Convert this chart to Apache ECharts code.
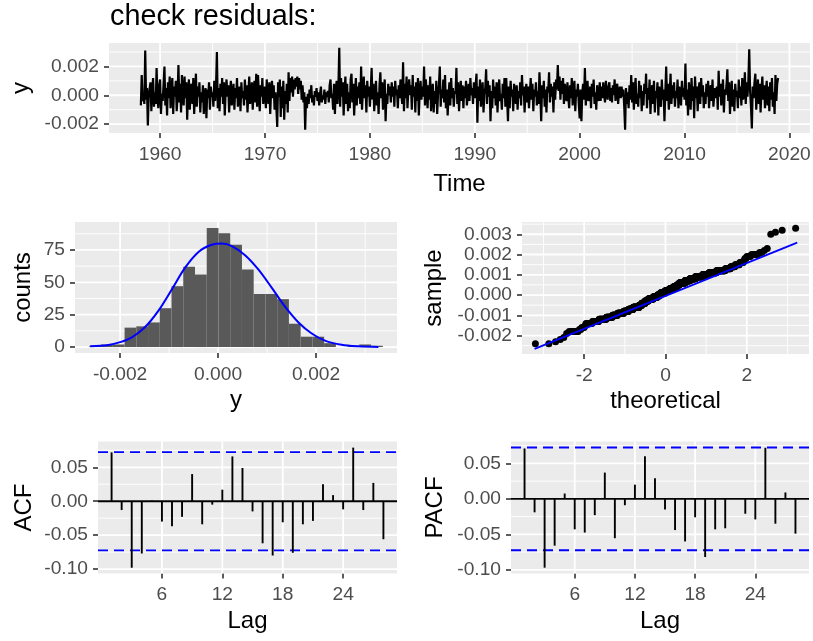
<!DOCTYPE html>
<html><head><meta charset="utf-8">
<script src="https://cdn.jsdelivr.net/npm/echarts@6/dist/echarts.min.js"></script>
<style>html,body{margin:0;padding:0;background:#fff}#c{width:813px;height:641px}</style>
</head><body><div id="c"></div>
<script>
// ---------- time series of residuals (monthly, Mar 1958 - Dec 2018) ----------
const tsStartYear = 1958, tsStartMonth = 3;
const residuals = [
-0.0007, 0.0014, -0.0004, 0.0001, -0.0006, 0.0031, -0.0003, 0.0005, -0.0021, 0.0000,
-0.0001, 0.0009, -0.0011, 0.0004, 0.0012, -0.0008, 0.0002, -0.0006, 0.0019, -0.0002, -0.0009, 0.0007,
0.0011, -0.0013, 0.0001, -0.0004, 0.0008, 0.0020, -0.0007, 0.0005, -0.0014, 0.0009, -0.0002, 0.0013,
-0.0009, 0.0004, 0.0012, -0.0013, 0.0006, -0.0001, 0.0010, -0.0011, 0.0000, 0.0021, -0.0005, 0.0008,
-0.0012, 0.0014, 0.0001, -0.0007, 0.0013, -0.0002, 0.0009, -0.0017, 0.0003, 0.0011, -0.0010, 0.0005,
0.0008, -0.0006, 0.0012, -0.0013, 0.0001, 0.0015, -0.0008, 0.0006, -0.0001, 0.0009, -0.0012, 0.0002,
-0.0005, 0.0007, -0.0013, 0.0000, 0.0005, -0.0016, 0.0004, -0.0002, 0.0009, -0.0010, 0.0006, -0.0001,
0.0002, -0.0008, 0.0010, -0.0004, 0.0006, 0.0030, -0.0009, 0.0005, -0.0011, 0.0008, -0.0001, 0.0012,
-0.0006, 0.0009, -0.0014, 0.0003, 0.0011, -0.0001, 0.0007, -0.0012, 0.0002, 0.0010, -0.0007, 0.0000,
0.0008, -0.0010, 0.0005, -0.0002, 0.0012, -0.0008, 0.0001, 0.0006, -0.0011, 0.0009, -0.0002, 0.0003,
-0.0007, 0.0011, -0.0003, 0.0007, -0.0012, 0.0001, 0.0013, -0.0006, 0.0000, 0.0009, -0.0010, 0.0005,
0.0010, -0.0005, 0.0015, -0.0008, 0.0014, 0.0002, -0.0011, 0.0007, -0.0001, 0.0012, -0.0006, 0.0001,
0.0006, -0.0009, 0.0011, 0.0000, -0.0006, 0.0009, -0.0013, 0.0003, 0.0010, -0.0002, 0.0007, -0.0010,
0.0002, -0.0008, -0.0022, 0.0009, -0.0001, 0.0011, -0.0015, 0.0006, -0.0009, 0.0010, -0.0017, 0.0003,
-0.0006, 0.0008, -0.0012, 0.0016, -0.0004, 0.0012, 0.0002, 0.0013, -0.0001, 0.0011, 0.0004, 0.0012,
0.0006, 0.0013, 0.0001, 0.0012, 0.0004, 0.0010, -0.0003, 0.0007, -0.0005, 0.0002, -0.0024, -0.0001,
-0.0009, 0.0001, -0.0006, 0.0004, -0.0002, 0.0007, -0.0005, 0.0000, -0.0007, 0.0003, -0.0001, 0.0005,
-0.0004, 0.0002, -0.0007, 0.0001, 0.0006, -0.0005, 0.0000, -0.0003, 0.0004, -0.0006, 0.0002, -0.0001,
0.0003, -0.0005, 0.0007, 0.0011, -0.0002, 0.0001, -0.0010, 0.0008, -0.0013, 0.0004, 0.0010, -0.0006,
0.0006, 0.0033, -0.0008, 0.0012, -0.0001, 0.0009, -0.0014, 0.0003, 0.0013, -0.0006, 0.0008, -0.0011,
0.0002, -0.0009, 0.0011, 0.0015, -0.0005, 0.0008, -0.0014, 0.0001, 0.0012, -0.0007, 0.0006, -0.0002,
0.0009, -0.0006, 0.0020, -0.0010, 0.0003, 0.0013, -0.0002, 0.0007, -0.0012, 0.0010, -0.0001, 0.0006,
-0.0008, 0.0004, 0.0019, -0.0003, 0.0008, -0.0011, 0.0001, 0.0010, -0.0007, 0.0002, -0.0013, 0.0007,
0.0016, -0.0002, 0.0009, -0.0010, 0.0003, 0.0011, -0.0018, 0.0001, -0.0006, 0.0008, 0.0000, 0.0006,
-0.0005, 0.0009, -0.0001, 0.0006, -0.0008, 0.0010, 0.0000, 0.0004, -0.0009, 0.0007, -0.0002, 0.0011,
0.0001, -0.0006, 0.0023, -0.0011, 0.0008, -0.0002, 0.0013, -0.0009, 0.0003, 0.0011, 0.0000, 0.0007,
-0.0010, 0.0014, -0.0001, 0.0006, -0.0012, 0.0009, -0.0004, 0.0012, -0.0014, 0.0002, 0.0010, -0.0003,
0.0006, -0.0001, 0.0020, -0.0007, 0.0011, 0.0002, -0.0009, 0.0007, -0.0003, 0.0013, -0.0011, 0.0001,
0.0008, -0.0012, 0.0003, -0.0006, 0.0010, -0.0013, 0.0001, 0.0007, 0.0020, -0.0008, 0.0004, -0.0002,
0.0011, -0.0005, 0.0014, -0.0009, 0.0004, -0.0014, 0.0000, 0.0009, -0.0007, 0.0012, -0.0002, 0.0005,
-0.0008, 0.0003, 0.0001, 0.0019, -0.0006, 0.0009, -0.0011, 0.0002, 0.0010, -0.0004, 0.0007, -0.0009,
0.0006, -0.0002, 0.0010, -0.0007, 0.0001, 0.0008, -0.0004, 0.0012, 0.0000, 0.0005, -0.0006, 0.0009,
-0.0002, 0.0007, 0.0015, -0.0019, 0.0006, -0.0004, 0.0011, -0.0008, 0.0002, 0.0009, -0.0012, 0.0001,
0.0005, 0.0018, -0.0006, 0.0010, -0.0001, 0.0007, -0.0018, 0.0003, -0.0009, 0.0011, -0.0002, 0.0006,
-0.0007, 0.0009, -0.0012, 0.0003, 0.0011, -0.0004, 0.0001, -0.0010, 0.0008, -0.0002, 0.0012, -0.0008,
0.0012, -0.0003, -0.0018, 0.0006, -0.0009, 0.0010, -0.0001, 0.0004, -0.0011, 0.0008, 0.0002, -0.0006,
0.0007, -0.0010, 0.0003, -0.0002, 0.0009, -0.0007, 0.0014, 0.0000, 0.0006, -0.0012, 0.0002, 0.0008,
-0.0005, 0.0006, -0.0009, 0.0001, 0.0012, -0.0003, 0.0008, -0.0011, 0.0004, -0.0001, 0.0009, -0.0007,
0.0003, -0.0006, 0.0016, 0.0001, -0.0018, 0.0007, -0.0002, 0.0010, -0.0008, 0.0004, -0.0012, 0.0006,
0.0002, 0.0016, -0.0005, 0.0008, -0.0001, 0.0006, -0.0012, 0.0009, -0.0003, 0.0011, 0.0004, 0.0021,
0.0003, 0.0013, -0.0003, 0.0010, 0.0001, 0.0012, -0.0006, 0.0008, 0.0000, -0.0004, 0.0009, -0.0001,
-0.0009, 0.0007, -0.0002, 0.0012, -0.0007, 0.0003, 0.0010, -0.0011, 0.0004, -0.0001, 0.0008, -0.0006,
-0.0016, 0.0004, -0.0018, 0.0002, 0.0008, -0.0003, 0.0019, -0.0007, 0.0003, 0.0010, -0.0004, 0.0001,
0.0006, -0.0009, 0.0008, -0.0001, 0.0011, -0.0006, 0.0002, -0.0010, 0.0007, 0.0000, -0.0004, 0.0009,
-0.0004, 0.0006, -0.0002, 0.0009, 0.0001, -0.0005, 0.0010, 0.0002, -0.0003, 0.0006, 0.0009, -0.0004,
0.0005, -0.0005, 0.0007, 0.0000, 0.0011, -0.0004, 0.0004, 0.0008, -0.0006, 0.0002, 0.0006, -0.0002,
0.0006, -0.0001, 0.0004, -0.0008, -0.0024, 0.0005, -0.0006, 0.0002, -0.0009, 0.0007, -0.0003, 0.0014,
-0.0005, 0.0009, -0.0010, 0.0004, 0.0012, -0.0006, 0.0001, -0.0008, 0.0010, -0.0002, 0.0007, -0.0011,
0.0003, -0.0007, 0.0008, 0.0001, 0.0015, -0.0009, 0.0005, -0.0003, 0.0011, -0.0013, 0.0002, 0.0007,
-0.0006, 0.0010, -0.0012, 0.0003, -0.0002, 0.0009, -0.0014, 0.0006, 0.0000, -0.0008, 0.0011, -0.0003,
0.0004, -0.0018, 0.0002, 0.0020, -0.0004, 0.0008, -0.0010, 0.0001, 0.0015, -0.0006, 0.0007, -0.0002,
0.0009, -0.0008, 0.0003, -0.0002, 0.0011, -0.0009, 0.0006, 0.0000, -0.0007, 0.0010, -0.0001, 0.0005,
-0.0003, 0.0022, -0.0007, 0.0004, -0.0014, 0.0009, 0.0001, -0.0010, 0.0012, -0.0004, 0.0006, -0.0016,
0.0013, -0.0002, 0.0006, -0.0011, 0.0003, 0.0009, -0.0006, 0.0012, -0.0001, 0.0007, -0.0009, 0.0002,
-0.0006, 0.0008, -0.0001, 0.0010, -0.0009, 0.0002, 0.0007, -0.0004, 0.0011, -0.0008, 0.0001, 0.0005,
-0.0002, 0.0006, -0.0010, 0.0017, -0.0001, 0.0008, -0.0007, 0.0003, 0.0011, -0.0012, 0.0004, 0.0000,
0.0007, 0.0018, -0.0004, 0.0009, -0.0013, 0.0002, 0.0010, -0.0008, 0.0004, -0.0011, 0.0008, -0.0001,
0.0003, -0.0009, 0.0011, -0.0002, 0.0006, -0.0007, 0.0012, -0.0003, 0.0001, 0.0016, -0.0006, 0.0009,
-0.0001, 0.0010, 0.0032, 0.0003, -0.0008, -0.0023, 0.0006, -0.0002, 0.0009, 0.0015, -0.0010, 0.0003,
0.0011, -0.0006, 0.0008, -0.0012, 0.0004, 0.0013, -0.0003, 0.0007, -0.0009, 0.0002, 0.0010, -0.0007,
0.0006, -0.0011, 0.0009, -0.0003, 0.0012, -0.0008, 0.0002, -0.0013, 0.0014, -0.0004, 0.0008, 0.0012
];
const tsXTicks = [1960, 1970, 1980, 1990, 2000, 2010, 2020];
const tsXMinor = [1965, 1975, 1985, 1995, 2005, 2015];
const tsYTicks = [-0.002, 0, 0.002];
const tsYMinor = [-0.001, 0.001, 0.003];

// ---------- histogram ----------
const histStart = -0.002627, histBinWidth = 0.0002395;
const histCounts = [1, 2, 2, 15, 16, 19, 30, 47, 62, 56, 92, 88, 79, 60, 41, 41, 37, 18, 8, 8, 3, 0, 1, 2, 1];
const normCurveX = [-0.00261, -0.00224, -0.0020, -0.00176, -0.00149, -0.00122, -0.000945, -0.00067, -0.0004, -0.00013, 0.00008, 0.00028, 0.00055, 0.00082, 0.0011, 0.00137, 0.00164, 0.00191, 0.00218, 0.00252, 0.00286, 0.00327];
const normCurveY = [0.6, 1.6, 3.8, 7.5, 15.5, 28, 44.5, 61.5, 73.5, 79, 80, 78, 71, 60, 45.5, 31, 19, 10.5, 5, 1.8, 0.6, 0.1];
const histXTicks = [-0.002, 0, 0.002];
const histXMinor = [-0.001, 0.001, 0.003];
const histYTicks = [0, 25, 50, 75];
const histYMinor = [12.5, 37.5, 62.5, 87.5];

// ---------- QQ plot ----------
const qqLineX = [-3.22, 3.24];
const qqLineY = [-0.00266, 0.00259];
const qqXTicks = [-2, 0, 2];
const qqXMinor = [-3, -1, 1, 3];
const qqYTicks = [-0.002, -0.001, 0, 0.001, 0.002, 0.003];
const qqYMinor = [-0.0025, -0.0015, -0.0005, 0.0005, 0.0015, 0.0025, 0.0035];

// ---------- ACF / PACF ----------
const acfValues = [0.072, -0.013, -0.098, -0.077, 0.001, -0.030, -0.037, -0.023, 0.040, -0.034, -0.005, 0.017, 0.066, 0.049, -0.015, -0.062, -0.080, -0.031, -0.076, -0.034, -0.029, 0.025, 0.009, -0.012, 0.079, -0.013, 0.027, -0.056];
const pacfValues = [0.071, -0.019, -0.097, -0.066, 0.0075, -0.043, -0.0475, -0.023, 0.037, -0.0555, -0.009, 0.020, 0.060, 0.029, -0.015, -0.044, -0.060, -0.026, -0.082, -0.043, -0.0415, 0.0, -0.021, -0.029, 0.072, -0.035, 0.009, -0.049];
const ciBound = 0.0724;
const lagTicks = [6, 12, 18, 24];
const corYTicks = [-0.10, -0.05, 0, 0.05];
const corYMinor = [-0.075, -0.025, 0.025, 0.075];

// ---------- helpers ----------
const FONT = 'Liberation Sans, Arial, sans-serif';
function qnorm(p) {
  const a=[-3.969683028665376e+01,2.209460984245205e+02,-2.759285104469687e+02,1.383577518672690e+02,-3.066479806614716e+01,2.506628277459239e+00];
  const b=[-5.447609879822406e+01,1.615858368580409e+02,-1.556989798598866e+02,6.680131188771972e+01,-1.328068155288572e+01];
  const c=[-7.784894002430293e-03,-3.223964580411365e-01,-2.400758277161838e+00,-2.549732539343734e+00,4.374664141464968e+00,2.938163982698783e+00];
  const d=[7.784695709041462e-03,3.224671290700398e-01,2.445134137142996e+00,3.754408661907416e+00];
  const pl=0.02425;
  let q, r;
  if (p < pl) { q=Math.sqrt(-2*Math.log(p)); return (((((c[0]*q+c[1])*q+c[2])*q+c[3])*q+c[4])*q+c[5])/((((d[0]*q+d[1])*q+d[2])*q+d[3])*q+1); }
  if (p > 1-pl) { q=Math.sqrt(-2*Math.log(1-p)); return -(((((c[0]*q+c[1])*q+c[2])*q+c[3])*q+c[4])*q+c[5])/((((d[0]*q+d[1])*q+d[2])*q+d[3])*q+1); }
  q=p-0.5; r=q*q;
  return (((((a[0]*r+a[1])*r+a[2])*r+a[3])*r+a[4])*r+a[5])*q/(((((b[0]*r+b[1])*r+b[2])*r+b[3])*r+b[4])*r+1);
}

function gridLineSeries(idx, xMajor, xMinor, yMajor, yMinor) {
  const data = [];
  xMinor.forEach(v => data.push([v, 0, 0.9]));
  yMinor.forEach(v => data.push([v, 1, 0.9]));
  xMajor.forEach(v => data.push([v, 0, 1.8]));
  yMajor.forEach(v => data.push([v, 1, 1.8]));
  return {
    type: 'custom', xAxisIndex: idx, yAxisIndex: idx, silent: true, z: 1, animation: false,
    encode: { x: -1, y: -1 },
    data: data,
    renderItem: function (params, api) {
      const v = api.value(0), dir = api.value(1), w = api.value(2);
      const cs = params.coordSys;
      const p = api.coord([v, v]);
      const shape = dir === 0
        ? { x1: p[0], y1: cs.y, x2: p[0], y2: cs.y + cs.height }
        : { x1: cs.x, y1: p[1], x2: cs.x + cs.width, y2: p[1] };
      return { type: 'line', shape: shape, style: { stroke: '#FFFFFF', lineWidth: w } };
    }
  };
}

function axis(idx, min, max, ticks, fmt, name, nameGap, margin) {
  return {
    type: 'value', gridIndex: idx, min: min, max: max, scale: true,
    axisLine: { show: false, onZero: false },
    axisTick: { show: true, customValues: ticks, length: 5, lineStyle: { color: '#333333', width: 1.6 } },
    axisLabel: { show: true, customValues: ticks, formatter: fmt, margin: margin, color: '#4D4D4D', fontSize: 19.2, fontFamily: FONT },
    splitLine: { show: false }, minorSplitLine: { show: false },
    name: name, nameLocation: 'middle', nameGap: nameGap,
    nameTextStyle: { fontSize: 24, color: '#000000', fontFamily: FONT }
  };
}
const f3 = v => v.toFixed(3), f2 = v => v.toFixed(2), f0 = v => String(Math.round(v));

function grid(left, top, width, height) {
  return { left: left, top: top, width: width, height: height, show: true, backgroundColor: '#EBEBEB', borderWidth: 0, containLabel: false, outerBoundsMode: 'none' };
}

// derived data
const tsData = residuals.map((v, i) => [tsStartYear + (tsStartMonth - 1 + i) / 12, v]);
const histData = histCounts.map((c, i) => [histStart + i * histBinWidth, histStart + (i + 1) * histBinWidth, c]);
const sorted = residuals.slice().sort((a, b) => a - b);
const qqData = sorted.map((v, i) => [qnorm((i + 0.5) / sorted.length), v]);

function corrSeries(idx, values) {
  return [
    {
      type: 'custom', xAxisIndex: idx, yAxisIndex: idx, z: 3, animation: false, silent: true,
      data: [[0, 0], [ciBound, 1], [-ciBound, 1]],
      renderItem: function (params, api) {
        const cs = params.coordSys;
        const y = api.coord([0, api.value(0)])[1];
        const dashed = api.value(1) === 1;
        return { type: 'line', shape: { x1: cs.x, y1: y, x2: cs.x + cs.width, y2: y },
          style: dashed ? { stroke: '#0000FF', lineWidth: 1.9, lineDash: [10, 6] } : { stroke: '#000000', lineWidth: 1.9 } };
      }
    },
    {
      type: 'custom', xAxisIndex: idx, yAxisIndex: idx, z: 4, animation: false, silent: true,
      data: values.map((v, i) => [i + 1, v]),
      renderItem: function (params, api) {
        const p0 = api.coord([api.value(0), 0]);
        const p1 = api.coord([api.value(0), api.value(1)]);
        return { type: 'line', shape: { x1: p0[0], y1: p0[1], x2: p1[0], y2: p1[1] }, style: { stroke: '#000000', lineWidth: 1.9 } };
      }
    }
  ];
}

const chart = echarts.init(document.getElementById('c'), null, { renderer: 'canvas' });
chart.setOption({
  animation: false,
  backgroundColor: '#FFFFFF',
  title: { text: 'check residuals:', left: 110, top: 3, padding: 0,
    textStyle: { fontSize: 28.8, fontWeight: 'normal', color: '#000000', fontFamily: FONT } },
  grid: [
    grid(109, 43, 701, 90),
    grid(75, 222, 322, 131),
    grid(522, 222, 287, 132),
    grid(98, 441.5, 299, 132),
    grid(511, 441.5, 298, 132)
  ],
  xAxis: [
    axis(0, 1955.13, 2021.96, tsXTicks, f0, 'Time', 39, 12),
    axis(1, -0.00292, 0.00365, histXTicks, f3, 'y', 35, 12),
    axis(2, -3.53, 3.53, qqXTicks, f0, 'theoretical', 35, 12),
    axis(3, -0.35, 29.35, lagTicks, f0, 'Lag', 36, 12),
    axis(4, -0.35, 29.35, lagTicks, f0, 'Lag', 36, 12)
  ],
  yAxis: [
    axis(0, -0.00262, 0.00363, tsYTicks, f3, 'y', 73, 10),
    axis(1, -4.6, 96.6, histYTicks, f0, 'counts', 40, 10),
    axis(2, -0.00291, 0.003605, qqYTicks, f3, 'sample', 76, 10),
    axis(3, -0.1065, 0.0880, corYTicks, f2, 'ACF', 62, 10),
    axis(4, -0.1052, 0.0808, corYTicks, f2, 'PACF', 64, 10)
  ],
  series: [
    gridLineSeries(0, tsXTicks, tsXMinor, tsYTicks, tsYMinor),
    gridLineSeries(1, histXTicks, histXMinor, histYTicks, histYMinor),
    gridLineSeries(2, qqXTicks, qqXMinor, qqYTicks, qqYMinor),
    gridLineSeries(3, lagTicks, [], corYTicks, corYMinor),
    gridLineSeries(4, lagTicks, [], corYTicks, corYMinor),
    { type: 'line', xAxisIndex: 0, yAxisIndex: 0, z: 3, data: tsData, showSymbol: false, symbol: 'none',
      lineStyle: { color: '#000000', width: 2.2 }, animation: false, silent: true },
    { type: 'custom', xAxisIndex: 1, yAxisIndex: 1, z: 3, animation: false, silent: true,
      encode: { x: [0, 1], y: 2 },
      data: histData,
      renderItem: function (params, api) {
        const p0 = api.coord([api.value(0), api.value(2)]);
        const p1 = api.coord([api.value(1), 0]);
        return { type: 'rect', shape: { x: p0[0], y: p0[1], width: p1[0] - p0[0], height: p1[1] - p0[1] }, style: { fill: '#595959' } };
      } },
    { type: 'line', xAxisIndex: 1, yAxisIndex: 1, z: 4, smooth: 0.35, showSymbol: false, symbol: 'none',
      data: normCurveX.map((x, i) => [x, normCurveY[i]]),
      lineStyle: { color: '#0000FF', width: 2 }, animation: false, silent: true },
    { type: 'scatter', xAxisIndex: 2, yAxisIndex: 2, z: 3, symbolSize: 7, data: qqData,
      itemStyle: { color: '#000000', opacity: 1 }, animation: false, silent: true },
    { type: 'line', xAxisIndex: 2, yAxisIndex: 2, z: 4, showSymbol: false, symbol: 'none',
      data: qqLineX.map((x, i) => [x, qqLineY[i]]),
      lineStyle: { color: '#0000FF', width: 1.8 }, animation: false, silent: true }
  ].concat(corrSeries(3, acfValues), corrSeries(4, pacfValues))
});
</script>
</body></html>
